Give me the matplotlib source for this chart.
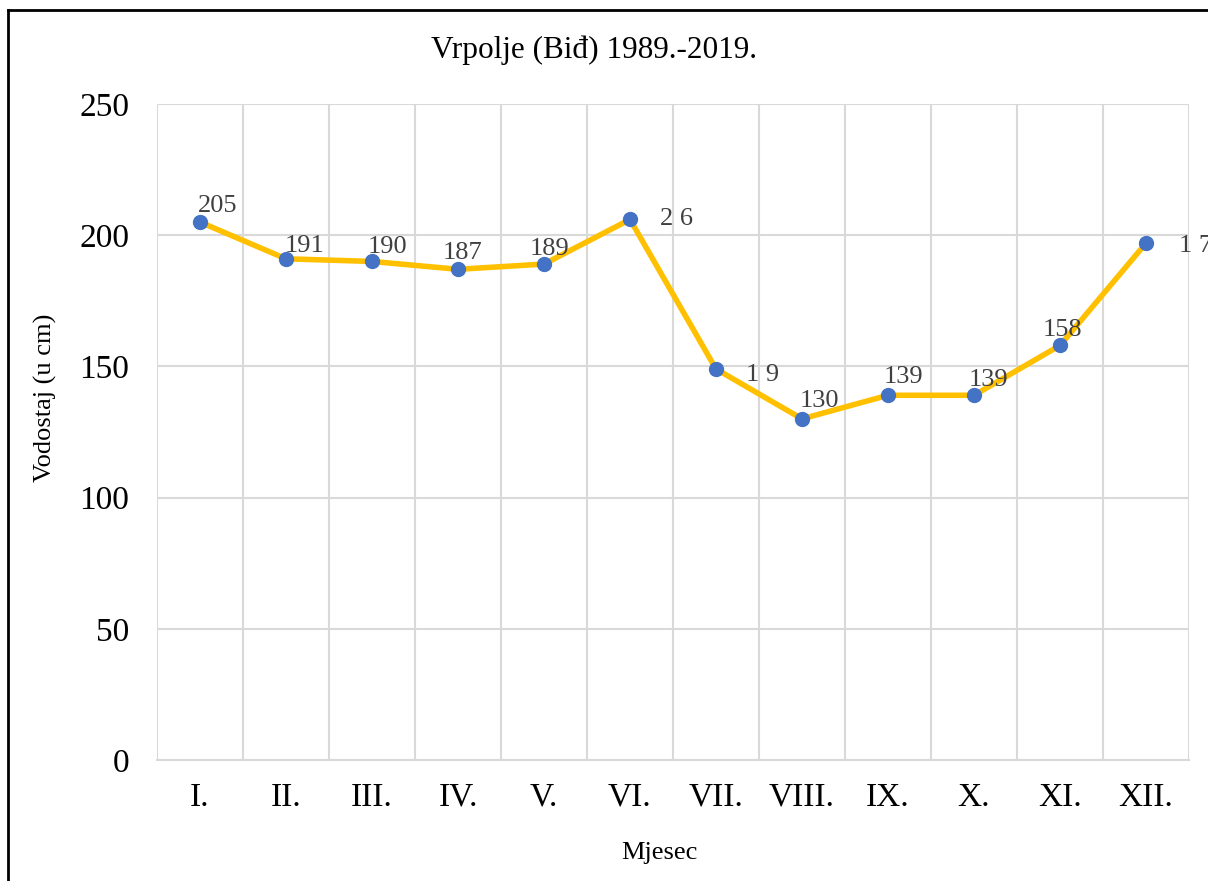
import matplotlib
matplotlib.use("Agg")
import matplotlib.pyplot as plt
from matplotlib.lines import Line2D

months = ["I.", "II.", "III.", "IV.", "V.", "VI.", "VII.", "VIII.", "IX.", "X.", "XI.", "XII."]
values = [205, 191, 190, 187, 189, 206, 149, 130, 139, 139, 158, 197]
point_labels = ["205", "191", "190", "187", "189", "2 6", "1 9", "130", "139", "139", "158", "1 7"]
yticks = [0, 50, 100, 150, 200, 250]

# label offsets in pixels (dx right, dy up), style only
label_offsets = [(18, 16), (19, 13), (15, 14), (5, 16), (6, 15), (46, 0),
                 (47, -6), (17, 18), (15, 18), (14, 15), (2, 15), (50, -3)]

plt.rcParams['font.family'] = ['Liberation Serif', 'DejaVu Serif']

W, H = 1208, 881
fig = plt.figure(figsize=(W / 100, H / 100), dpi=100)
ax = fig.add_axes([157 / W, 1 - 760 / H, (1189 - 157) / W, (760 - 104) / H])

x = list(range(len(months)))
ax.plot(x, values, color="#FFC000", lw=4, zorder=3, solid_capstyle="round")
ax.plot(x, values, ls="none", marker="o", ms=10, color="#4472C4", zorder=4)

for i, (v, lab) in enumerate(zip(values, point_labels)):
    dx, dy = label_offsets[i]
    ax.annotate(lab, (i, v), xytext=(dx * 0.72, dy * 0.72), textcoords="offset points",
                ha="center", va="center", fontsize=19, color="#404040", zorder=5,
                annotation_clip=False)

ax.set_xlim(-0.5, 11.5)
ax.set_ylim(0, 250)
ax.set_yticks(yticks)
ax.set_xticks(x)
ax.set_xticklabels(months)
ax.set_xticks([i + 0.5 for i in range(-1, 12)], minor=True)
ax.grid(False)
ax.grid(True, which="minor", axis="x", color="#D9D9D9", lw=1.5)
ax.grid(True, which="major", axis="y", color="#D9D9D9", lw=1.5)
ax.set_axisbelow(True)
for s in ["top", "right", "left"]:
    ax.spines[s].set_visible(False)
ax.spines["bottom"].set_color("#D9D9D9")
ax.spines["bottom"].set_linewidth(1.5)
ax.tick_params(axis="both", which="both", length=0, labelsize=24, colors="black")
ax.tick_params(axis="x", pad=16)
ax.tick_params(axis="y", pad=20)

fig.text(659 / W, 1 - 853 / H, "Mjesec", ha="center", va="center", fontsize=19)
fig.text(45 / W, 1 - 398 / H, "Vodostaj (u cm)", ha="center", va="center", rotation=90, fontsize=19)
fig.text(594 / W, 1 - 50 / H, "Vrpolje (Biđ) 1989.-2019.", ha="center", va="center", fontsize=22.5)

fig.add_artist(Line2D([8 / W, 8 / W], [1 - 10 / H, 0], transform=fig.transFigure, color="black", lw=2))
fig.add_artist(Line2D([8 / W, 1], [1 - 10 / H, 1 - 10 / H], transform=fig.transFigure, color="black", lw=2))

fig.savefig("out.png", dpi=100, facecolor="white")
